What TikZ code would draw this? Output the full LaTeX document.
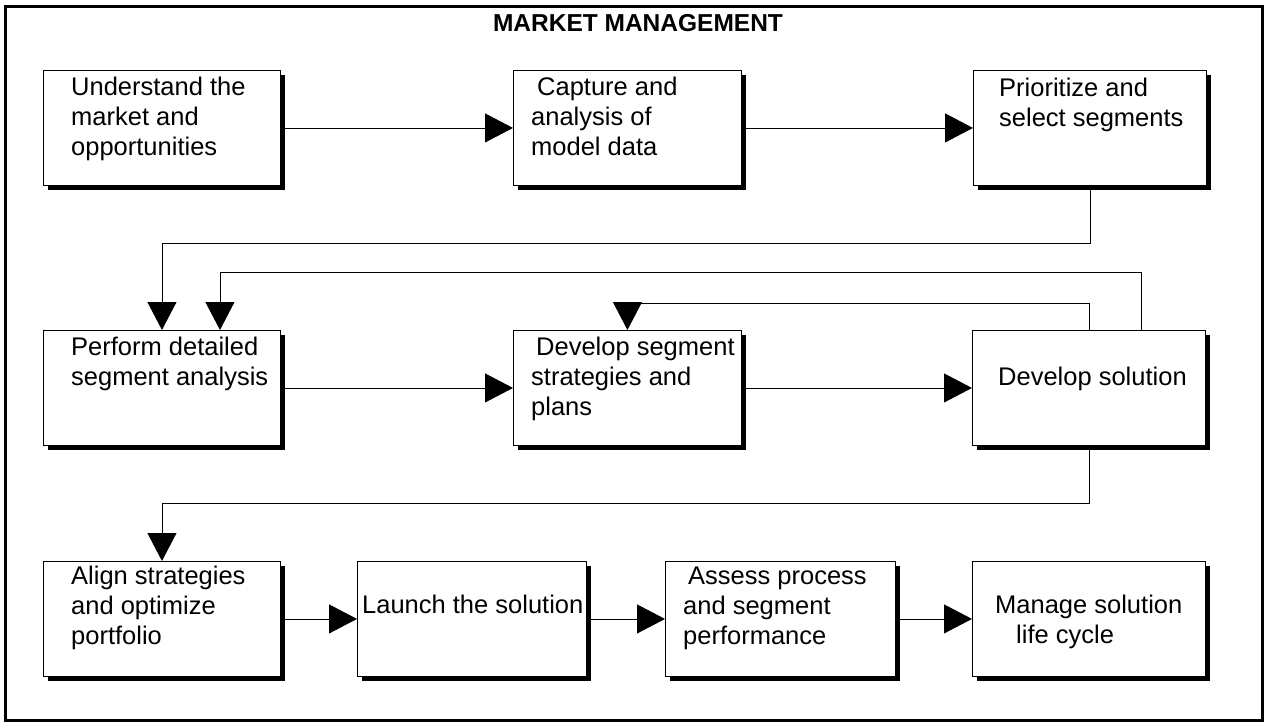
\documentclass[tikz,border=0pt]{standalone}
\usepackage{fontspec}
\setmainfont{Liberation Sans}
\usetikzlibrary{arrows.meta,shadows}
\begin{document}
\begin{tikzpicture}[x=1pt,y=-1pt,
  box/.style={draw=black, line width=0.9pt, fill=white, inner sep=0pt, anchor=north west,
    minimum height=115pt,
    drop shadow={shadow xshift=4.5pt,shadow yshift=-4.5pt,fill=black,opacity=1}},
  txt/.style={anchor=north west, inner sep=0pt, align=left, font=\fontsize{25.5}{30}\selectfont},
  arr/.style={line width=0.9pt, -{Triangle[length=28pt,width=29pt]}},
  ]
\useasboundingbox (0,0) rectangle (1267,725);
\draw[line width=3pt] (5,7) rectangle (1262,720);
\node[font=\bfseries\fontsize{24.5}{28}\selectfont, anchor=base, inner sep=0pt] (title) at (638,32) {MARKET MANAGEMENT};

% row 1
\node[box, minimum width=237pt] (A) at (43,70) {};
\node[box, minimum width=228pt] (B) at (513,70) {};
\node[box, minimum width=233pt] (C) at (973,70) {};
% row 2
\node[box, minimum width=237pt] (D) at (43,330) {};
\node[box, minimum width=228pt] (E) at (513,330) {};
\node[box, minimum width=233pt] (F) at (972,330) {};
% row 3
\node[box, minimum width=237pt] (G) at (43,561) {};
\node[box, minimum width=229pt] (H) at (357,561) {};
\node[box, minimum width=230pt] (I) at (665,561) {};
\node[box, minimum width=233pt] (J) at (972,561) {};

% texts
\node[txt] (tA) at ([xshift=28pt,yshift=-4pt]A.north west) {\strut Understand the\\\strut market and\\\strut opportunities};
\node[txt] (tB) at ([xshift=18pt,yshift=-4pt]B.north west) {\strut\hspace*{6pt}Capture and\\\strut analysis of\\\strut model data};
\node[txt] (tC) at ([xshift=26pt,yshift=-5pt]C.north west) {\strut Prioritize and\\\strut select segments};
\node[txt] (tD) at ([xshift=28pt,yshift=-4pt]D.north west) {\strut Perform detailed\\\strut segment analysis};
\node[txt] (tE) at ([xshift=18pt,yshift=-4pt]E.north west) {\strut\hspace*{5pt}Develop segment\\\strut strategies and\\\strut plans};
\node[txt] (tF) at ([xshift=26pt,yshift=-4pt]F.north west) {\strut\\\strut Develop solution};
\node[txt] (tG) at ([xshift=28pt,yshift=-2pt]G.north west) {\strut Align strategies\\\strut and optimize\\\strut portfolio};
\node[txt] (tH) at ([xshift=5pt,yshift=-1pt]H.north west) {\strut\\\strut Launch the solution};
\node[txt] (tI) at ([xshift=18pt,yshift=-2pt]I.north west) {\strut\hspace*{5pt}Assess process\\\strut and segment\\\strut performance};
\node[txt] (tJ) at ([xshift=23pt,yshift=-1pt]J.north west) {\strut\\\strut Manage solution\\\strut\hspace*{21pt}life cycle};

% straight arrows
\draw[arr] (A) -- (B);
\draw[arr] (B) -- (C);
\draw[arr] (D) -- (E);
\draw[arr] (E) -- (F);
\draw[arr] (G) -- (H);
\draw[arr] (H) -- (I);
\draw[arr] (I) -- (J);

% routed connectors
\coordinate (cd) at (0,243);
\coordinate (fd) at (0,272);
\coordinate (fe) at (0,303);
\coordinate (fg) at (0,503);
\draw[arr] (C.south) -- (C.south |- cd) -| (D.north);
\draw[arr] ([xshift=52pt]F.north) -- ([xshift=52pt]F.north |- fd) -| ([xshift=58pt]D.north);
\draw[arr] (F.north) -- (F.north |- fe) -| (E.north);
\draw[arr] (F.south) -- (F.south |- fg) -| (G.north);
\end{tikzpicture}
\end{document}
